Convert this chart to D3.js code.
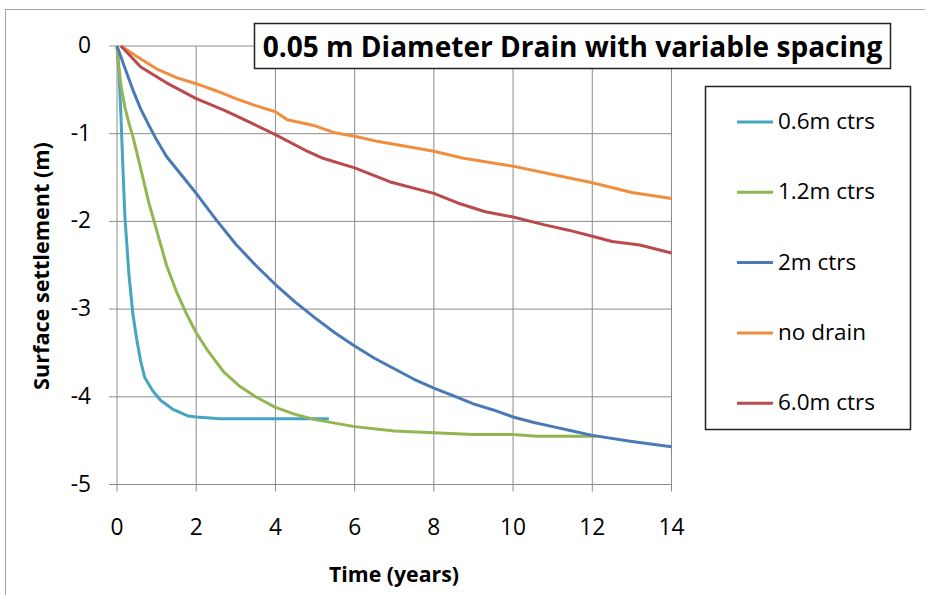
<!DOCTYPE html>
<html>
<head>
<meta charset="utf-8">
<script src="https://cdn.jsdelivr.net/npm/d3@7"></script>
<style>
  body { margin: 0; background: #fff; }
  text { font-family: "Open Sans", Lato, sans-serif; fill: #000; }
</style>
</head>
<body>
<div id="chart"></div>
<script>
// time (years) and surface settlement (m)
var t06 = [0, 0.05, 0.1, 0.15, 0.2, 0.3, 0.4, 0.5, 0.6, 0.7, 0.9, 1.1, 1.4, 1.8, 2.0, 2.6, 5.35];
var v06 = [0, -0.3, -0.8, -1.4, -1.95, -2.6, -3.05, -3.35, -3.6, -3.78, -3.93, -4.04, -4.14, -4.22, -4.23, -4.25, -4.25];

var t12 = [0, 0.05, 0.1, 0.2, 0.3, 0.4, 0.6, 0.8, 1.0, 1.25, 1.5, 1.75, 2.0, 2.3, 2.7, 3.1, 3.5, 4.0, 4.5, 5.0, 5.5, 6.0, 7.0, 8.0, 9.0, 10.0, 10.6, 12.1];
var v12 = [0, -0.25, -0.45, -0.7, -0.88, -1.03, -1.4, -1.78, -2.1, -2.5, -2.8, -3.05, -3.27, -3.48, -3.72, -3.88, -4.0, -4.12, -4.2, -4.26, -4.3, -4.34, -4.39, -4.41, -4.43, -4.43, -4.45, -4.45];

var t20 = [0, 0.2, 0.4, 0.6, 0.8, 1.0, 1.25, 1.5, 1.75, 2.0, 2.5, 3.0, 3.5, 4.0, 4.5, 5.0, 5.5, 6.0, 6.5, 7.0, 7.5, 8.0, 8.5, 9.0, 9.5, 10, 10.5, 11, 11.5, 12, 13, 14];
var v20 = [0, -0.25, -0.5, -0.72, -0.9, -1.07, -1.26, -1.4, -1.54, -1.68, -1.98, -2.26, -2.5, -2.72, -2.92, -3.1, -3.27, -3.42, -3.56, -3.68, -3.8, -3.9, -3.99, -4.08, -4.15, -4.23, -4.29, -4.34, -4.39, -4.44, -4.51, -4.57];

var tNo = [0.1, 0.5, 1.0, 1.5, 2.0, 2.5, 3.0, 3.5, 4.0, 4.3, 5.0, 5.5, 6.0, 6.6, 7.5, 8.0, 8.75, 10, 10.85, 12, 13, 14];
var vNo = [0, -0.12, -0.26, -0.36, -0.43, -0.51, -0.6, -0.68, -0.75, -0.84, -0.91, -0.99, -1.03, -1.09, -1.16, -1.2, -1.28, -1.37, -1.45, -1.56, -1.67, -1.74];

var t60 = [0.1, 0.6, 1.25, 2.0, 2.7, 3.4, 4.0, 4.8, 5.2, 6.0, 6.9, 8.0, 8.6, 9.3, 10, 10.8, 11.4, 12, 12.5, 13.2, 14];
var v60 = [0, -0.24, -0.42, -0.6, -0.73, -0.88, -1.01, -1.2, -1.28, -1.39, -1.55, -1.68, -1.79, -1.89, -1.95, -2.04, -2.1, -2.17, -2.23, -2.27, -2.36];

var names = ["0.6m ctrs", "1.2m ctrs", "2m ctrs", "no drain", "6.0m ctrs"];
var colors = ["#46A5BF", "#93B553", "#4A7AB5", "#F08E40", "#B94B4E"];
var xTicks = [0, 2, 4, 6, 8, 10, 12, 14];
var yTicks = [0, -1, -2, -3, -4, -5];

var series = [[t06, v06], [t12, v12], [t20, v20], [tNo, vNo], [t60, v60]].map(function(s, i) {
  return { name: names[i], color: colors[i], pts: s[0].map(function(t, j) { return [t, s[1][j]]; }) };
});

var W = 925, H = 595;
var svg = d3.select("#chart").append("svg").attr("width", W).attr("height", H);

// size a text so that it spans the given width
function fit(sel, width) {
  var w = sel.node().getComputedTextLength();
  var fs = parseFloat(sel.style("font-size"));
  var nfs = fs * width / w;
  sel.style("font-size", nfs + "px");
  return nfs;
}

// outer chart frame
svg.append("rect").attr("x", 5.5).attr("y", 9.5).attr("width", W + 10).attr("height", H + 10)
   .attr("fill", "none").attr("stroke", "#a6a6a6").attr("stroke-width", 1);

var x = d3.scaleLinear().domain([0, 14]).range([117, 671.5]);
var y = d3.scaleLinear().domain([-5, 0]).range([484.5, 46]);

// grid
svg.append("g").selectAll("line").data(xTicks).enter().append("line")
   .attr("x1", function(d) { return x(d); }).attr("x2", function(d) { return x(d); })
   .attr("y1", y(0)).attr("y2", y(-5) + 7)
   .attr("stroke", "#8c8c8c").attr("stroke-width", 1);
svg.append("g").selectAll("line").data(yTicks).enter().append("line")
   .attr("y1", function(d) { return y(d); }).attr("y2", function(d) { return y(d); })
   .attr("x1", x(0) - 8).attr("x2", x(14))
   .attr("stroke", "#8c8c8c").attr("stroke-width", 1);

// tick labels
var probe = svg.append("text").style("font-size", "20px").text("14");
var tickSize = fit(probe, 26);
probe.remove();
svg.append("g").selectAll("text").data(xTicks).enter().append("text")
   .attr("x", function(d) { return x(d); }).attr("y", 535)
   .attr("text-anchor", "middle").style("font-size", tickSize + "px")
   .text(function(d) { return d; });
svg.append("g").selectAll("text").data(yTicks).enter().append("text")
   .attr("x", 91).attr("y", function(d) { return y(d) + 7; })
   .attr("text-anchor", "end").style("font-size", tickSize + "px")
   .text(function(d) { return d === 0 ? "0" : "-" + Math.abs(d); });

// lines
var line = d3.line().x(function(d) { return x(d[0]); }).y(function(d) { return y(d[1]); });
svg.append("g").selectAll("path").data(series).enter().append("path")
   .attr("d", function(d) { return line(d.pts); })
   .attr("fill", "none").attr("stroke", function(d) { return d.color; })
   .attr("stroke-width", 3).attr("stroke-linejoin", "round");

// axis titles
var xt = svg.append("text").attr("x", 394).attr("y", 582).attr("text-anchor", "middle")
   .style("font-size", "19px").style("font-weight", "bold").text("Time (years)");
fit(xt, 130);
var yt = svg.append("text").attr("transform", "translate(49,266) rotate(-90)").attr("text-anchor", "middle")
   .style("font-size", "19px").style("font-weight", "bold").text("Surface settlement (m)");
fit(yt, 248);

// chart title in a box
svg.append("rect").attr("x", 254.5).attr("y", 23.5).attr("width", 636).attr("height", 45)
   .attr("fill", "#fff").attr("stroke", "#222").attr("stroke-width", 1.5);
var title = svg.append("text").attr("x", 572.5).attr("y", 57).attr("text-anchor", "middle")
   .style("font-size", "28px").style("font-weight", "bold")
   .text("0.05 m Diameter Drain with variable spacing");
fit(title, 620);

// legend
svg.append("rect").attr("x", 705.5).attr("y", 86.5).attr("width", 205).attr("height", 343)
   .attr("fill", "#fff").attr("stroke", "#222").attr("stroke-width", 1.5);
var probe2 = svg.append("text").style("font-size", "20px").text(names[0]);
var legSize = fit(probe2, 97);
probe2.remove();
var leg = svg.append("g").selectAll("g").data(series).enter().append("g")
   .attr("transform", function(d, i) { return "translate(0," + (122 + i * 70.3) + ")"; });
leg.append("line").attr("x1", 737).attr("x2", 773)
   .attr("stroke", function(d) { return d.color; }).attr("stroke-width", 3);
leg.append("text").attr("x", 778).attr("y", 7).style("font-size", legSize + "px")
   .text(function(d) { return d.name; });
</script>
</body>
</html>
